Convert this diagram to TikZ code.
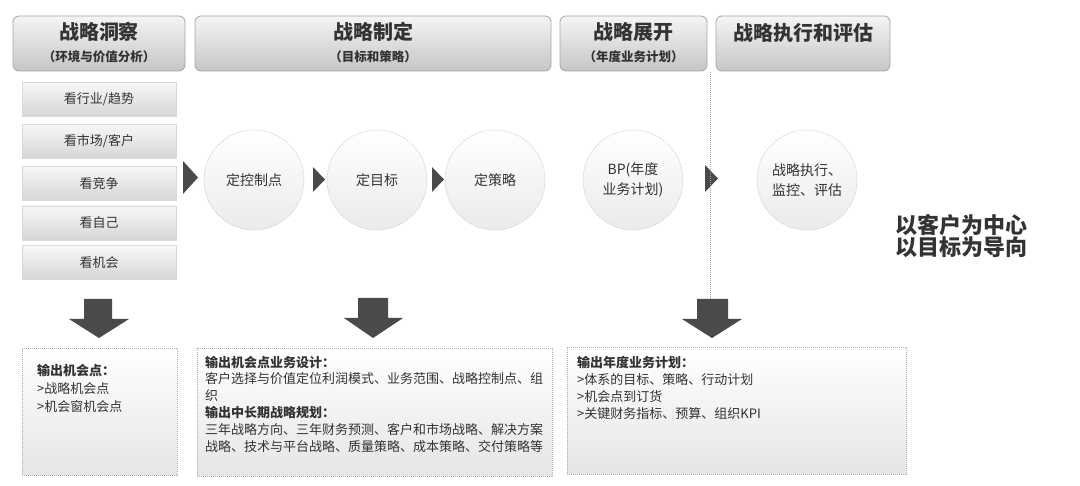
\documentclass[tikz,border=0pt]{standalone}
\usepackage{fontspec}
\setmainfont{Noto Sans CJK SC}
\usetikzlibrary{shapes.geometric}
\definecolor{txt}{HTML}{333333}
\definecolor{arr}{HTML}{4A4A4A}
\begin{document}
\begin{tikzpicture}[x=1pt,y=-1pt,
  hdr/.style={draw=gray!70, line width=0.8pt, rounded corners=6pt, top color=gray!8, bottom color=gray!45, minimum height=55pt, inner sep=0pt},
  htitle/.style={text=txt, font=\fontsize{20}{22}\selectfont\bfseries, inner sep=0pt},
  hsub/.style={text=txt, font=\fontsize{12.5}{14}\selectfont\bfseries, inner sep=0pt},
  lbox/.style={draw=gray!30, top color=gray!6, bottom color=gray!32, minimum width=154pt, minimum height=34pt, inner sep=0pt, text=txt, font=\fontsize{13}{15}\selectfont},
  circ/.style={circle, draw=gray!40, dash pattern=on 2pt off 1pt, line width=0.5pt, top color=white, bottom color=gray!16, minimum size=100pt, inner sep=0pt, text=txt, font=\fontsize{14}{20}\selectfont, align=center},
  obox/.style={draw=gray!65, dash pattern=on 1pt off 1pt, line width=0.6pt, top color=white, bottom color=gray!20, inner sep=0pt},
  otext/.style={anchor=north west, inner sep=0pt, text=txt, align=left},
  tri/.style={fill=arr},
  darr/.style={fill=arr},
  big/.style={text=txt, font=\fontsize{22}{19}\selectfont\bfseries, inner sep=0pt, align=center}
]
\useasboundingbox (0,0) rectangle (1080,486);
\fill[white] (0,0) rectangle (1080,486);

% headers
\node[hdr, minimum width=172pt] (h1) at (99,43.5) {};
\node[hdr, minimum width=356pt] (h2) at (373,43.5) {};
\node[hdr, minimum width=147pt] (h3) at (633.5,43.5) {};
\node[hdr, minimum width=174pt] (h4) at (803,43.5) {};
\node[htitle] (h1t) at (99,32) {战略洞察};
\node[hsub] (h1s) at (99,57) {（环境与价值分析）};
\node[htitle] (h2t) at (373,32) {战略制定};
\node[hsub] (h2s) at (373,57) {（目标和策略）};
\node[htitle] (h3t) at (633.5,32) {战略展开};
\node[hsub] (h3s) at (633.5,57) {（年度业务计划）};
\node[htitle] (h4t) at (803,33) {战略执行和评估};

% left column
\node[lbox] (l1) at (99,99.5) {看行业/趋势};
\node[lbox] (l2) at (99,141) {看市场/客户};
\node[lbox] (l3) at (99,183.5) {看竞争};
\node[lbox] (l4) at (99,223) {看自己};
\node[lbox] (l5) at (99,262.5) {看机会};

% circles
\node[circ] (c1) at (254,180) {定控制点};
\node[circ] (c2) at (377,180) {定目标};
\node[circ] (c3) at (495,180) {定策略};
\node[circ] (c4) at (633,180) {BP(年度\\业务计划)};
\node[circ] (c5) at (807,180) {战略执行、\\监控、评估};

% triangles
\fill[tri] (183,161) -- (198,177.5) -- (183,194) -- cycle;
\fill[tri] (313,167) -- (325,179.5) -- (313,192) -- cycle;
\fill[tri] (432,167) -- (444,179.5) -- (432,192) -- cycle;
\fill[tri] (705,165) -- (718,178.5) -- (705,192) -- cycle;

% dashed divider
\coordinate (dtop) at (710,72);
\coordinate (dbot) at (710,299);
\draw[gray!70, dash pattern=on 1pt off 1pt, line width=0.6pt] (dtop) -- (dbot);

% down arrows
\fill[darr] (84,299) -- (112,299) -- (112,319) -- (129,319) -- (99,338) -- (69,319) -- (84,319) -- cycle;
\fill[darr] (358,298) -- (388,298) -- (388,318) -- (403,318) -- (373,338) -- (344,318) -- (358,318) -- cycle;
\fill[darr] (697,299) -- (728,299) -- (728,319) -- (742,319) -- (712,338) -- (682,319) -- (697,319) -- cycle;

% output boxes
\node[obox, minimum width=155pt, minimum height=127pt] (o1) at (99.5,411.5) {};
\node[obox, minimum width=355pt, minimum height=128pt] (o2) at (374.5,412) {};
\node[obox, minimum width=339pt, minimum height=127pt] (o3) at (736.5,410.5) {};

\node[otext, font=\fontsize{13}{18}\selectfont] (o1t) at (37,363.6) {\textbf{输出机会点：}\\>战略机会点\\>机会窗机会点};
\node[otext, font=\fontsize{13}{16.8}\selectfont] (o2t) at (205,355.6) {\textbf{输出机会点业务设计：}\\客户选择与价值定位利润模式、业务范围、战略控制点、组\\织\\\textbf{输出中长期战略规划：}\\三年战略方向、三年财务预测、客户和市场战略、解决方案\\战略、技术与平台战略、质量策略、成本策略、交付策略等};
\node[otext, font=\fontsize{13}{17.3}\selectfont] (o3t) at (577,355.6) {\textbf{输出年度业务计划：}\\>体系的目标、策略、行动计划\\>机会点到订货\\>关键财务指标、预算、组织KPI};

% slogan
\node[big] (slogan) at (961.5,236) {以客户为中心\\以目标为导向};
\end{tikzpicture}
\end{document}
